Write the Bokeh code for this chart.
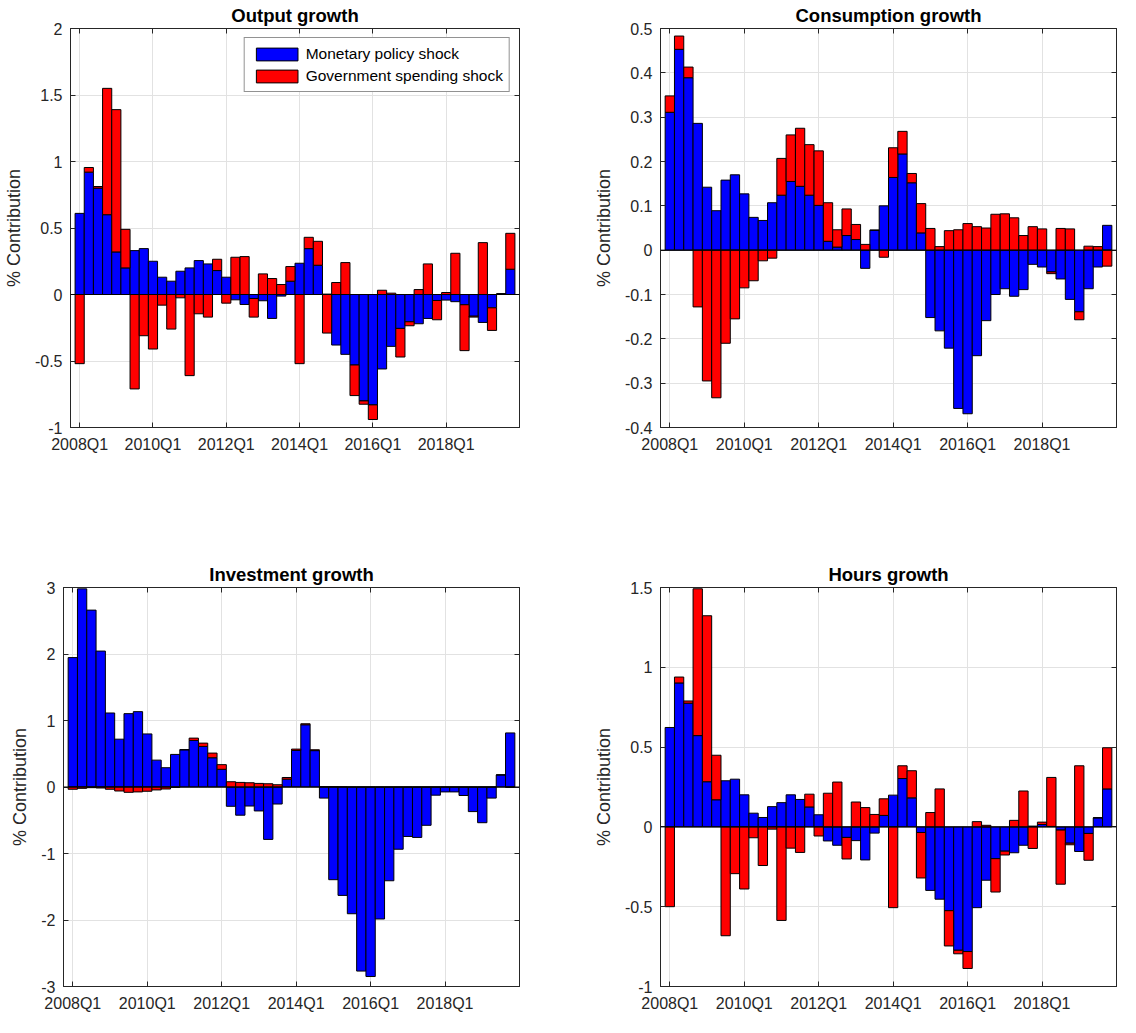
from bokeh.plotting import figure
from bokeh.layouts import column, row
from bokeh.models import (Range1d, FixedTicker, LinearAxis, Span, CustomJSTickFormatter,
                          Legend, LegendItem, ColumnDataSource)
from bokeh.embed import file_html
from bokeh.resources import INLINE

# ---------------- data ----------------
quarters = [f"{y}Q{q}" for y in range(2008, 2020) for q in range(1, 5)]
tick_labels = ["2008Q1", "2010Q1", "2012Q1", "2014Q1", "2016Q1", "2018Q1"]

output_monetary = [0.61, 0.92, 0.80, 0.60, 0.32, 0.20, 0.33, 0.345, 0.25, 0.13, 0.10, 0.175,
                   0.20, 0.255, 0.23, 0.18, 0.13, -0.04, -0.075, -0.03, -0.047, -0.18, -0.012, 0.10,
                   0.235, 0.345, 0.22, 0.003, -0.38, -0.45, -0.53, -0.80, -0.83, -0.56, -0.39, -0.255,
                   -0.205, -0.22, -0.18, -0.045, -0.042, -0.054, -0.077, -0.163, -0.21, -0.10, 0.005, 0.19]
output_government = [-0.52, 0.035, 0.012, 0.95, 1.07, 0.29, -0.71, -0.31, -0.41, -0.08, -0.26, -0.025,
                     -0.61, -0.145, -0.17, 0.085, -0.065, 0.28, 0.285, -0.14, 0.155, 0.12, 0.075, 0.11,
                     -0.52, 0.085, 0.18, -0.29, 0.09, 0.24, -0.23, -0.025, -0.11, 0.032, 0.01, -0.215,
                     -0.03, 0.037, 0.23, -0.145, 0.015, 0.31, -0.345, -0.007, 0.39, -0.17, 0.0, 0.27]

consumption_monetary = [0.311, 0.453, 0.389, 0.286, 0.142, 0.089, 0.158, 0.170, 0.127, 0.074, 0.067, 0.107,
                        0.124, 0.155, 0.144, 0.124, 0.101, 0.020, 0.007, 0.033, 0.024, -0.041, 0.045, 0.100,
                        0.164, 0.217, 0.152, 0.039, -0.152, -0.182, -0.221, -0.357, -0.369, -0.238, -0.159, -0.100,
                        -0.087, -0.104, -0.089, -0.032, -0.038, -0.049, -0.065, -0.111, -0.139, -0.087, -0.038, 0.056]
consumption_government = [0.037, 0.030, 0.024, -0.128, -0.295, -0.333, -0.210, -0.155, -0.085, -0.069, -0.024, -0.018,
                          0.083, 0.105, 0.131, 0.114, 0.123, 0.087, 0.039, 0.060, 0.034, 0.013, 0.0, -0.016,
                          0.067, 0.051, 0.021, 0.066, 0.049, 0.008, 0.044, 0.046, 0.060, 0.053, 0.050, 0.081,
                          0.082, 0.073, 0.033, 0.053, 0.048, -0.004, 0.049, 0.048, -0.018, 0.009, 0.008, -0.036]

investment_monetary = [1.946, 2.98, 2.66, 2.044, 1.113, 0.719, 1.103, 1.133, 0.798, 0.404, 0.29, 0.49,
                       0.56, 0.70, 0.61, 0.44, 0.266, -0.29, -0.424, -0.286, -0.36, -0.788, -0.256, 0.118,
                       0.55, 0.936, 0.547, -0.167, -1.394, -1.63, -1.906, -2.768, -2.85, -1.985, -1.41, -0.936,
                       -0.744, -0.758, -0.576, -0.123, -0.074, -0.074, -0.128, -0.37, -0.537, -0.167, 0.182, 0.813]
investment_government = [-0.034, -0.02, -0.01, -0.015, -0.034, -0.06, -0.08, -0.074, -0.064, -0.044, -0.03, -0.005,
                         0.0, 0.035, 0.05, 0.07, 0.07, 0.079, 0.069, 0.064, 0.054, 0.049, 0.034, 0.025,
                         0.02, 0.015, 0.013, 0.005, 0.005, 0.003, 0.0, 0.0, 0.0, 0.0, 0.0, 0.0,
                         0.0, 0.0, 0.0, 0.0, 0.0, 0.0, 0.0, 0.0, 0.0, 0.0, 0.0, -0.005]

hours_monetary = [0.623, 0.902, 0.775, 0.572, 0.283, 0.170, 0.289, 0.299, 0.201, 0.086, 0.059, 0.127,
                  0.152, 0.201, 0.172, 0.125, 0.076, -0.088, -0.115, -0.066, -0.086, -0.207, -0.039, 0.072,
                  0.199, 0.303, 0.182, -0.035, -0.398, -0.453, -0.525, -0.773, -0.781, -0.506, -0.334, -0.199,
                  -0.152, -0.162, -0.115, 0.005, 0.015, 0.003, -0.02, -0.102, -0.154, -0.041, 0.057, 0.238]
hours_government = [-0.50, 0.037, 0.014, 0.92, 1.04, 0.279, -0.682, -0.293, -0.389, -0.068, -0.242, -0.014,
                    -0.586, -0.133, -0.160, 0.080, -0.057, 0.211, 0.281, -0.135, 0.156, 0.121, 0.078, 0.104,
                    -0.506, 0.080, 0.170, -0.285, 0.090, 0.238, -0.221, -0.022, -0.106, 0.033, 0.010, -0.209,
                    -0.024, 0.041, 0.225, -0.135, 0.015, 0.307, -0.339, -0.010, 0.383, -0.168, 0.0, 0.258]

# ---------------- styling ----------------
FONT = "Liberation Sans"
AX = "#262626"
BLUE = "#0000ff"
RED = "#ff0000"
GRID = "#e2e2e2"


def stack(mon, gov):
    mb, mt, gb, gt = [], [], [], []
    for b, r in zip(mon, gov):
        pos, neg = max(b, 0.0), min(b, 0.0)
        mb.append(0.0)
        mt.append(b)
        if r >= 0:
            gb.append(pos)
            gt.append(pos + r)
        else:
            gb.append(neg)
            gt.append(neg + r)
    return mb, mt, gb, gt


def panel(title, mon, gov, y_lo, y_hi, y_ticks, width, height, borders, legend=False):
    left, right, top, bottom = borders
    n = len(quarters)
    p = figure(width=width, height=height, x_range=Range1d(0, n + 1), y_range=Range1d(y_lo, y_hi),
               output_backend="svg", toolbar_location=None,
               min_border_left=left, min_border_right=right, min_border_top=top, min_border_bottom=bottom,
               background_fill_color="white", border_fill_color="white")
    xs = list(range(1, n + 1))
    mb, mt, gb, gt = stack(mon, gov)
    src = ColumnDataSource(dict(x=xs, q=quarters, mb=mb, mt=mt, gb=gb, gt=gt))
    r1 = p.vbar(x="x", width=1, bottom="mb", top="mt", source=src,
                fill_color=BLUE, line_color="black", line_width=1)
    r2 = p.vbar(x="x", width=1, bottom="gb", top="gt", source=src,
                fill_color=RED, line_color="black", line_width=1)
    p.add_layout(Span(location=0, dimension="width", line_color="black", line_width=1))

    xt = [quarters.index(lbl) + 1 for lbl in tick_labels]
    xa = p.xaxis[0]
    ya = p.yaxis[0]
    xa.ticker = FixedTicker(ticks=xt)
    xa.major_label_overrides = {t: lbl for t, lbl in zip(xt, tick_labels)}
    ya.ticker = FixedTicker(ticks=y_ticks)
    ya.formatter = CustomJSTickFormatter(code="return String(Math.round(tick*10)/10);")
    for ax in (xa, ya):
        ax.major_tick_in = 5
        ax.major_tick_out = 0
        ax.minor_tick_line_color = None
        ax.axis_line_color = AX
        ax.major_tick_line_color = AX
        ax.major_label_text_font = FONT
        ax.major_label_text_font_size = "16px"
        ax.major_label_text_color = AX
    xa.major_label_standoff = 8
    ya.major_label_standoff = 8
    ya.axis_label = "% Contribution"
    ya.axis_label_text_font = FONT
    ya.axis_label_text_font_size = "18px"
    ya.axis_label_text_font_style = "normal"
    ya.axis_label_text_color = AX
    ya.axis_label_standoff = 8

    # box ticks on top and right (MATLAB "box on"), no labels
    blank = CustomJSTickFormatter(code="return '';")
    top_ax = LinearAxis(ticker=FixedTicker(ticks=xt), formatter=blank, major_label_text_color=None,
                        major_label_text_font_size="1px",
                        major_label_standoff=0, major_tick_in=5, major_tick_out=0,
                        minor_tick_line_color=None, axis_line_color=AX, major_tick_line_color=AX)
    right_ax = LinearAxis(ticker=FixedTicker(ticks=y_ticks), formatter=blank, major_label_text_color=None,
                          major_label_text_font_size="1px",
                          major_label_standoff=0, major_tick_in=5, major_tick_out=0,
                          minor_tick_line_color=None, axis_line_color=AX, major_tick_line_color=AX)
    p.add_layout(top_ax, "above")
    p.add_layout(right_ax, "right")

    p.xgrid.ticker = FixedTicker(ticks=xt)
    p.ygrid.ticker = FixedTicker(ticks=y_ticks)
    p.xgrid.grid_line_color = GRID
    p.ygrid.grid_line_color = GRID

    p.outline_line_color = AX
    p.outline_line_width = 1
    p.outline_line_alpha = 1

    p.title.text = title
    p.title.align = "center"
    p.title.text_font = FONT
    p.title.text_font_size = "18.5px"
    p.title.text_font_style = "bold"
    p.title.text_color = "black"
    p.title.standoff = 5

    if legend:
        lg = Legend(items=[LegendItem(label="Monetary policy shock", renderers=[r1]),
                           LegendItem(label="Government spending shock", renderers=[r2])],
                    location="top_right", margin=9, padding=6, spacing=3,
                    glyph_width=52, glyph_height=16, label_height=19, label_standoff=3,
                    label_text_font=FONT, label_text_font_size="15.5px", label_text_color="black",
                    border_line_color=AX, border_line_width=1, background_fill_color="white",
                    background_fill_alpha=1)
        p.add_layout(lg)
    return p


FW = 456
FH = 400
TOP_B = 27
MID_B = 132
BOT_B = 28
p1 = panel("Output growth", output_monetary, output_government, -1, 2,
           [-1, -0.5, 0, 0.5, 1, 1.5, 2], 63 + FW + 66, TOP_B + FH + MID_B, (63, 66, TOP_B, MID_B),
           legend=True)
p2 = panel("Consumption growth", consumption_monetary, consumption_government, -0.4, 0.5,
           [-0.4, -0.3, -0.2, -0.1, 0, 0.1, 0.2, 0.3, 0.4, 0.5], 75 + FW + 2, TOP_B + FH + MID_B,
           (75, 2, TOP_B, MID_B))
p3 = panel("Investment growth", investment_monetary, investment_government, -3, 3,
           [-3, -2, -1, 0, 1, 2, 3], 63 + FW + 66, TOP_B + FH + BOT_B, (63, 66, TOP_B, BOT_B))
p4 = panel("Hours growth", hours_monetary, hours_government, -1, 1.5,
           [-1, -0.5, 0, 0.5, 1, 1.5], 75 + FW + 2, TOP_B + FH + BOT_B, (75, 2, TOP_B, BOT_B))

layout = column(row(p1, p2), row(p3, p4))
open("out.html", "w").write(file_html(layout, INLINE))
